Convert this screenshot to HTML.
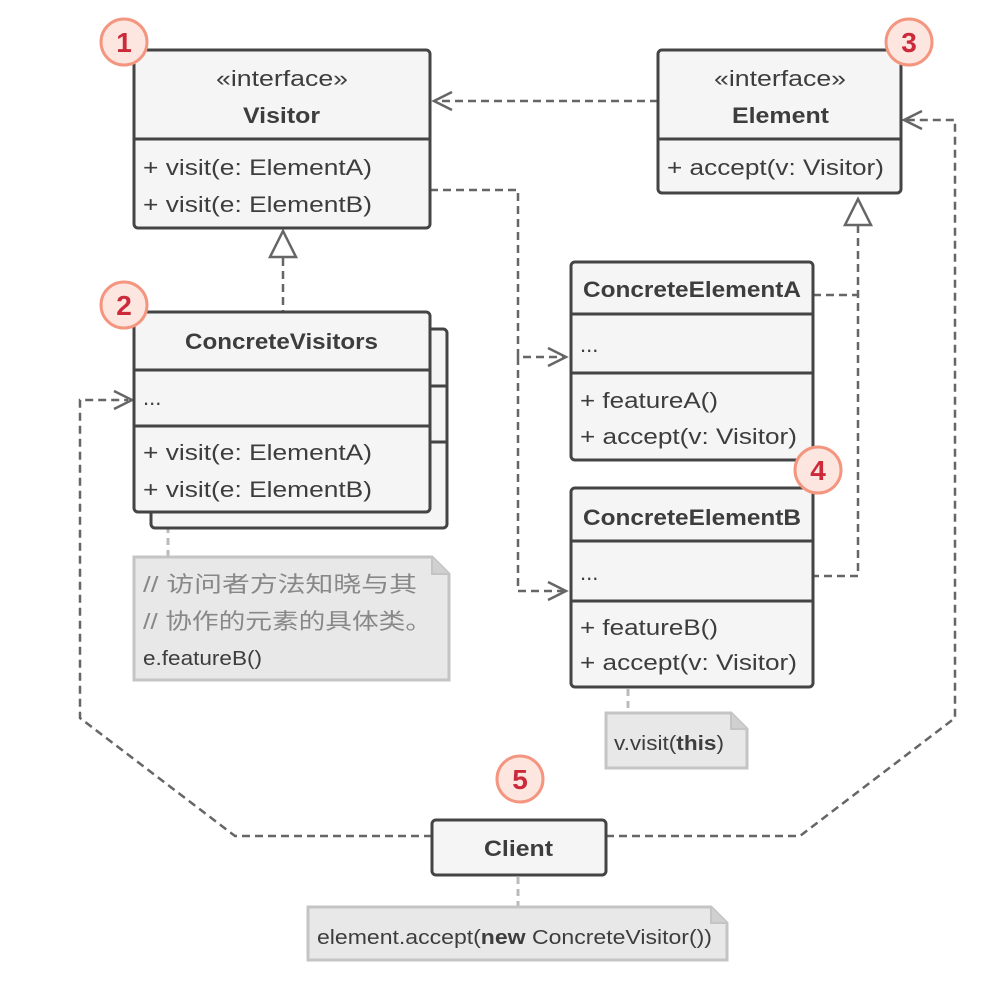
<!DOCTYPE html>
<html><head><meta charset="utf-8"><style>
html,body{margin:0;padding:0;background:#fff;}
svg{display:block;}
text{font-family:"Liberation Sans","Noto Sans CJK SC",sans-serif;fill:#3d3d3d;font-size:22px;}
.b{font-weight:bold;}
.box{fill:#f5f5f5;stroke:#444;stroke-width:3;}
.ln{stroke:#444;stroke-width:3;}
.d{fill:none;stroke:#666;stroke-width:2.5;stroke-dasharray:8 5;}
.ar{fill:none;stroke:#666;stroke-width:2.5;}
.note{fill:#e8e8e8;stroke:#c4c4c4;stroke-width:3;}
.bg circle{fill:#fde6df;stroke:#f4957f;stroke-width:3;}
.bg text{fill:#cc2a3a;font-weight:bold;font-size:28px;text-anchor:middle;}
</style></head><body>
<svg width="1008" height="993" viewBox="0 0 1008 993">
<path class="d" d="M658 101 H436"/>
<path class="ar" d="M452 92 L434 101 L452 110"/>
<path class="d" d="M430 190 H518 V357 H564 M518 357 V591 H564"/>
<path class="ar" d="M548 348 L566 357 L548 366 M548 582 L566 591 L548 600"/>
<path class="d" d="M283 258 V312"/>
<path fill="#fff" stroke="#666" stroke-width="2.5" d="M283 231 L270 257 H296 Z"/>
<path class="d" d="M858 225 V576 H813 M813 295 H858"/>
<path fill="#fff" stroke="#666" stroke-width="2.5" d="M858 199 L845 225 H871 Z"/>
<path class="d" d="M432 836 H235 L80 718 V400 H128"/>
<path class="ar" d="M114 391 L132 400 L114 409"/>
<path class="d" d="M606 836 H800 L955 718 V120 H906"/>
<path class="ar" d="M922 111 L904 120 L922 129"/>
<path d="M168 514 V557 M628 689 V713 M518 877 V907" stroke="#bbb" stroke-width="3" stroke-dasharray="7 5" fill="none"/>

<rect class="box" x="134" y="50" width="296" height="178" rx="4"/>
<line class="ln" x1="134" y1="139" x2="430" y2="139"/>
<text x="216" y="86" textLength="132" lengthAdjust="spacingAndGlyphs">«interface»</text>
<text x="243" y="123" class="b" textLength="77" lengthAdjust="spacingAndGlyphs">Visitor</text>
<text x="143" y="175" textLength="229" lengthAdjust="spacingAndGlyphs">+ visit(e: ElementA)</text>
<text x="143" y="212" textLength="229" lengthAdjust="spacingAndGlyphs">+ visit(e: ElementB)</text>

<rect class="box" x="658" y="50" width="243" height="143" rx="4"/>
<line class="ln" x1="658" y1="139" x2="901" y2="139"/>
<text x="714" y="86" textLength="132" lengthAdjust="spacingAndGlyphs">«interface»</text>
<text x="732" y="123" class="b" textLength="97" lengthAdjust="spacingAndGlyphs">Element</text>
<text x="667" y="175" textLength="217" lengthAdjust="spacingAndGlyphs">+ accept(v: Visitor)</text>

<rect class="box" x="151" y="329" width="296" height="199" rx="4"/>
<line class="ln" x1="430" y1="386" x2="447" y2="386"/>
<line class="ln" x1="430" y1="442" x2="447" y2="442"/>
<rect class="box" x="134" y="312" width="296" height="200" rx="4"/>
<line class="ln" x1="134" y1="370" x2="430" y2="370"/>
<line class="ln" x1="134" y1="426" x2="430" y2="426"/>
<text x="185" y="349" class="b" textLength="193" lengthAdjust="spacingAndGlyphs">ConcreteVisitors</text>
<text x="143" y="405">...</text>
<text x="143" y="460" textLength="229" lengthAdjust="spacingAndGlyphs">+ visit(e: ElementA)</text>
<text x="143" y="497" textLength="229" lengthAdjust="spacingAndGlyphs">+ visit(e: ElementB)</text>

<path class="note" d="M134 557 H432 L449 574 V680 H134 Z"/>
<path d="M432 557 V574 H449" fill="#d0d0d0" stroke="#c4c4c4" stroke-width="2"/>
<text x="143" y="592" style="fill:#888" textLength="274" lengthAdjust="spacingAndGlyphs">// 访问者方法知晓与其</text>
<text x="143" y="629" style="fill:#888" textLength="289" lengthAdjust="spacingAndGlyphs">// 协作的元素的具体类。</text>
<text x="143" y="665" style="font-size:20px" textLength="119" lengthAdjust="spacingAndGlyphs">e.featureB()</text>

<rect class="box" x="571" y="262" width="242" height="198" rx="4"/>
<line class="ln" x1="571" y1="314" x2="813" y2="314"/>
<line class="ln" x1="571" y1="373" x2="813" y2="373"/>
<text x="583" y="297" class="b" textLength="218" lengthAdjust="spacingAndGlyphs">ConcreteElementA</text>
<text x="580" y="352">...</text>
<text x="580" y="408" textLength="138" lengthAdjust="spacingAndGlyphs">+ featureA()</text>
<text x="580" y="444" textLength="217" lengthAdjust="spacingAndGlyphs">+ accept(v: Visitor)</text>

<rect class="box" x="571" y="488" width="242" height="199" rx="4"/>
<line class="ln" x1="571" y1="541" x2="813" y2="541"/>
<line class="ln" x1="571" y1="601" x2="813" y2="601"/>
<text x="583" y="525" class="b" textLength="218" lengthAdjust="spacingAndGlyphs">ConcreteElementB</text>
<text x="580" y="580">...</text>
<text x="580" y="635" textLength="138" lengthAdjust="spacingAndGlyphs">+ featureB()</text>
<text x="580" y="670" textLength="217" lengthAdjust="spacingAndGlyphs">+ accept(v: Visitor)</text>

<path class="note" d="M606 713 H731 L747 729 V768 H606 Z"/>
<path d="M731 713 V729 H747" fill="#d0d0d0" stroke="#c4c4c4" stroke-width="2"/>
<text x="614" y="750" style="font-size:20px" textLength="110" lengthAdjust="spacingAndGlyphs">v.visit(<tspan class="b">this</tspan>)</text>

<rect class="box" x="432" y="820" width="174" height="55" rx="4"/>
<text x="484" y="856" class="b" textLength="69" lengthAdjust="spacingAndGlyphs">Client</text>

<path class="note" d="M308 907 H711 L727 923 V960 H308 Z"/>
<path d="M711 907 V923 H727" fill="#d0d0d0" stroke="#c4c4c4" stroke-width="2"/>
<text x="317" y="944" style="font-size:20px" textLength="395" lengthAdjust="spacingAndGlyphs">element.accept(<tspan class="b">new</tspan> ConcreteVisitor())</text>

<g class="bg">
<circle cx="124" cy="42" r="23"/><text x="124" y="52">1</text>
<circle cx="124" cy="305" r="23"/><text x="124" y="315">2</text>
<circle cx="909" cy="42" r="23"/><text x="909" y="52">3</text>
<circle cx="818" cy="470" r="23"/><text x="818" y="480">4</text>
<circle cx="520" cy="779" r="23"/><text x="520" y="789">5</text>
</g>
</svg>
</body></html>
